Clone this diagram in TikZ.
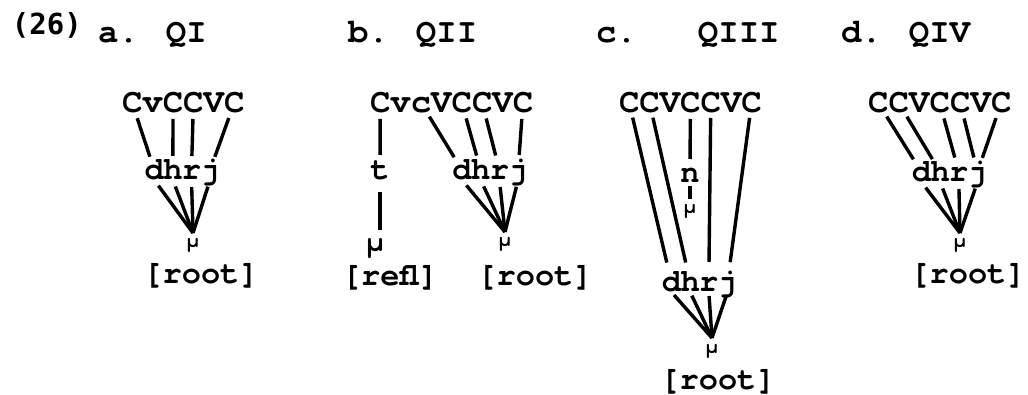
\documentclass[tikz,border=0pt]{standalone}
\usepackage{fontspec}
\newfontfamily\tw{TeX Gyre Cursor}
\newfontfamily\dvm{DejaVu Sans Mono}
\usetikzlibrary{calc}
\begin{document}
\begin{tikzpicture}[x=1pt,y=-1pt,
  every node/.style={inner sep=0pt, outer sep=0pt},
  capch/.style={anchor=base, font=\tw\bfseries\fontsize{34}{40}\selectfont, text height=20pt, text depth=0pt},
  smch/.style={anchor=base, font=\tw\bfseries\fontsize{32}{36}\selectfont, text height=20pt, text depth=0pt},
  ttl/.style={anchor=base west, font=\tw\bfseries\fontsize{34}{40}\selectfont},
  brk/.style={anchor=base, font=\tw\bfseries\fontsize{32}{36}\selectfont},
  mu/.style={anchor=base, font=\tw\bfseries\fontsize{21}{24}\selectfont, text height=9pt, text depth=0pt, inner ysep=6pt},
  bigmu/.style={anchor=base, font=\tw\bfseries\fontsize{30}{34}\selectfont, text height=12pt, text depth=0pt},
  assoc/.style={line width=3.4pt},
]
\useasboundingbox (0,0) rectangle (1028,395);

% titles
\node[anchor=base west, font=\dvm\bfseries\fontsize{29}{34}\selectfont] (num) at (12,35) {(26)};
\node[ttl] (ta) at (98,43) {a. QI};
\node[ttl] (tb) at (348,43) {b. QII};
\node[ttl] (tc) at (596,43) {c.~~~QIII};
\node[ttl] (td) at (841,43) {d. QIV};

% ---------- panel a ----------
\foreach \c [count=\i] in {C,v,C,C,V,C}
  \node[capch] (a\i) at ({132.2+20.4*(\i-1)},113) {\c};
\foreach \c [count=\i] in {d,h,r,j}
  \node[smch] (a\c) at ({154.3+18.6*(\i-1)},180) {\c};
\node[mu] (amu) at (193,248) {μ};
\node[brk] (aroot) at (201,284) {[root]};
\begin{scope}[assoc, shorten <=16pt, shorten >=14pt]
  \draw (a1.center) -- (ad.center);
  \draw (a3.center) -- (ah.center);
  \draw (a4.center) -- (ar.center);
  \draw (a6.center) -- (aj.center);
\end{scope}
\begin{scope}[assoc, shorten <=7pt]
  \foreach \c in {d,h,r,j} \draw (a\c.south) -- (amu.north);
\end{scope}

% ---------- panel b ----------
\foreach \c [count=\i] in {C,v,c,V,C,C,V,C}
  \node[capch] (b\i) at ({380.2+20.4*(\i-1)},113) {\c};
\node[smch] (bt) at (380,180) {t};
\node[bigmu] (bmurefl) at (375,252) {μ};
\node[brk] (brefl) at (390,286) {[refl]};
\foreach \c [count=\i] in {d,h,r,j}
  \node[smch] (b\c) at ({462+18.7*(\i-1)},180) {\c};
\node[mu] (bmu) at (505,247) {μ};
\node[brk] (broot) at (535,286) {[root]};
\begin{scope}[assoc, shorten <=16pt, shorten >=15pt]
  \draw (b1.center) -- (bt.center);
  \draw (b3.center) -- (bd.center);
  \draw (b5.center) -- (bh.center);
  \draw (b6.center) -- (br.center);
  \draw (b8.center) -- (bj.center);
\end{scope}
\draw[assoc, shorten <=12pt, shorten >=10pt] (bt.south) -- (bt.south |- bmurefl.north);
\begin{scope}[assoc, shorten <=7pt]
  \foreach \c in {d,h,r,j} \draw (b\c.south) -- (bmu.north);
\end{scope}

% ---------- panel c ----------
\foreach \c [count=\i] in {C,C,V,C,C,V,C}
  \node[capch] (c\i) at ({629.2+20.4*(\i-1)},113) {\c};
\node[smch] (cn) at (690,183) {n};
\node[mu] (cmun) at (690,214) {μ};
\foreach \c [count=\i] in {d,h,r,j}
  \node[smch] (c\c) at ({671.4+18.7*(\i-1)},292) {\c};
\node[mu] (cmu) at (712,353) {μ};
\node[brk] (croot) at (718,389) {[root]};
\begin{scope}[assoc, shorten <=15pt, shorten >=20pt]
  \draw (c1.center) -- (cd.center);
  \draw (c2.center) -- (ch.center);
  \draw (c5.center) -- (cr.center);
  \draw (c7.center) -- (cj.center);
\end{scope}
\draw[assoc, shorten <=16pt, shorten >=14pt] (c4.center) -- (cn.center);
\draw[assoc, shorten <=3pt] (cn.south) -- (cmun.north);
\begin{scope}[assoc, shorten <=4pt]
  \foreach \c in {d,h,r,j} \draw (c\c.south) -- (cmu.north);
\end{scope}

% ---------- panel d ----------
\foreach \c [count=\i] in {C,C,V,C,C,V,C}
  \node[capch] (d\i) at ({878.2+20.5*(\i-1)},113) {\c};
\foreach \c [count=\i] in {d,h,r,j}
  \node[smch] (d\c) at ({921.4+18.7*(\i-1)},182) {\c};
\node[mu] (dmu) at (960,248) {μ};
\node[brk] (droot) at (968,284) {[root]};
\begin{scope}[assoc, shorten <=16pt, shorten >=15pt]
  \draw (d1.center) -- (dd.center);
  \draw (d2.center) -- (dh.center);
  \draw (d4.center) -- (dr.center);
  \draw (d5.center) -- (dj.center);
  \draw (d7.center) -- (dj.center);
\end{scope}
\begin{scope}[assoc, shorten <=7pt]
  \foreach \c in {d,h,r,j} \draw (d\c.south) -- (dmu.north);
\end{scope}
\end{tikzpicture}
\end{document}
